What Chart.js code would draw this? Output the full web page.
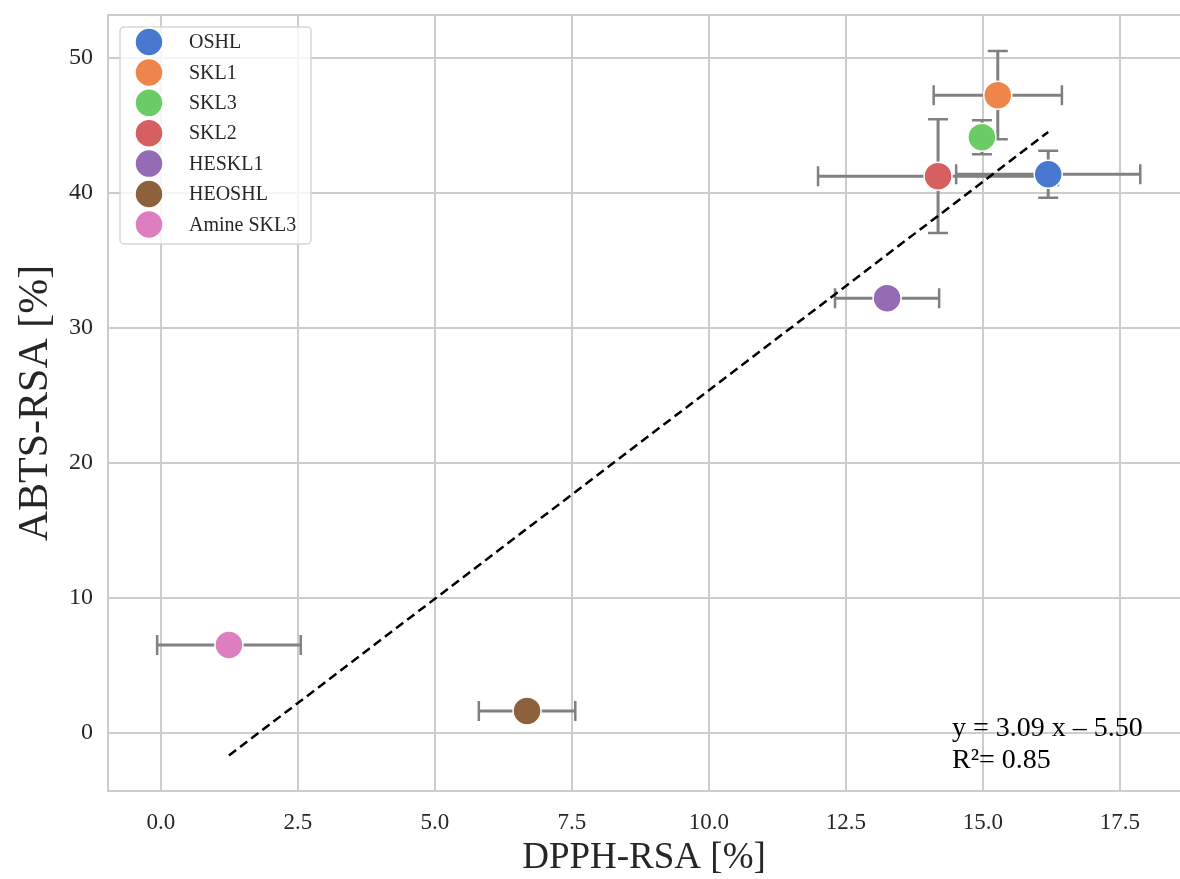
<!DOCTYPE html>
<html>
<head>
<meta charset="utf-8">
<script src="https://cdn.jsdelivr.net/npm/chart.js@4/dist/chart.umd.min.js"></script>
<style>
  html, body { margin: 0; padding: 0; background: #fff; }
  #wrap { width: 1180px; height: 879px; overflow: hidden; }
</style>
</head>
<body>
<div id="wrap"><canvas id="chart" width="1180" height="879"></canvas></div>
<script>
// values
const samples = ["OSHL", "SKL1", "SKL3", "SKL2", "HESKL1", "HEOSHL", "Amine SKL3"];
const dpph    = [16.19, 15.27, 14.98, 14.18, 13.25, 6.68, 1.24];
const dpphErr = [1.68, 1.17, 0, 2.19, 0.95, 0.88, 1.31];
const abts    = [41.40, 47.26, 44.15, 41.26, 32.22, 1.63, 6.52];
const abtsErr = [1.74, 3.27, 1.26, 4.22, 0, 0, 0];
const colors  = ["#4878d0", "#ee854a", "#6acc64", "#d65f5f", "#956cb4", "#8c613c", "#dc7ec0"];

const fitSlope = 3.09;
const fitIntercept = -5.50;
const fitR2 = 0.85;

const xTicks = [0, 2.5, 5, 7.5, 10, 12.5, 15, 17.5];
const yTicks = [0, 10, 20, 30, 40, 50];

const FONT = "'Liberation Serif', 'Times New Roman', serif";
const TEXT = "#262626";
const GRID = "#cccccc";

Chart.defaults.font.family = FONT;
Chart.defaults.color = TEXT;

const xMinData = Math.min(...dpph);
const xMaxData = Math.max(...dpph);

const datasets = samples.map((s, i) => ({
  type: "scatter",
  label: s,
  data: [{ x: dpph[i], y: abts[i] }],
  backgroundColor: colors[i],
  borderColor: "#ffffff",
  borderWidth: 1.5,
  pointRadius: 14,
  pointHoverRadius: 14,
  order: 1,
  isSample: true
}));

datasets.push({
  type: "line",
  label: "fit",
  data: [
    { x: xMinData, y: fitSlope * xMinData + fitIntercept },
    { x: xMaxData, y: fitSlope * xMaxData + fitIntercept }
  ],
  borderColor: "#000000",
  borderWidth: 2.5,
  borderDash: [9, 5],
  pointRadius: 0,
  fill: false,
  order: 2
});

// error bars, under everything else
const errorBars = {
  id: "errorBars",
  beforeDatasetsDraw(chart) {
    const { ctx, scales: { x, y } } = chart;
    const cap = 10;
    ctx.save();
    ctx.strokeStyle = "#808080";
    samples.forEach((s, i) => {
      const px = x.getPixelForValue(dpph[i]);
      const py = y.getPixelForValue(abts[i]);
      if (dpphErr[i] > 0) {
        const l = x.getPixelForValue(dpph[i] - dpphErr[i]);
        const r = x.getPixelForValue(dpph[i] + dpphErr[i]);
        ctx.lineWidth = 3;
        ctx.beginPath(); ctx.moveTo(l, py); ctx.lineTo(r, py); ctx.stroke();
        ctx.lineWidth = 2.5;
        ctx.beginPath();
        ctx.moveTo(l, py - cap); ctx.lineTo(l, py + cap);
        ctx.moveTo(r, py - cap); ctx.lineTo(r, py + cap);
        ctx.stroke();
      }
      if (abtsErr[i] > 0) {
        const t = y.getPixelForValue(abts[i] + abtsErr[i]);
        const b = y.getPixelForValue(abts[i] - abtsErr[i]);
        ctx.lineWidth = 3;
        ctx.beginPath(); ctx.moveTo(px, t); ctx.lineTo(px, b); ctx.stroke();
        ctx.lineWidth = 2.5;
        ctx.beginPath();
        ctx.moveTo(px - cap, t); ctx.lineTo(px + cap, t);
        ctx.moveTo(px - cap, b); ctx.lineTo(px + cap, b);
        ctx.stroke();
      }
    });
    ctx.restore();
  }
};

// frame around the plot (top/left/bottom, right runs off the image)
const frame = {
  id: "frame",
  beforeDatasetsDraw(chart) {
    const { ctx, chartArea: a } = chart;
    ctx.save();
    ctx.strokeStyle = GRID;
    ctx.lineWidth = 2;
    ctx.beginPath();
    ctx.moveTo(a.right, a.top); ctx.lineTo(a.left, a.top);
    ctx.lineTo(a.left, a.bottom); ctx.lineTo(a.right, a.bottom);
    ctx.stroke();
    ctx.restore();
  }
};

// legend box in the upper left corner + fit annotation
const overlay = {
  id: "overlay",
  afterDatasetsDraw(chart) {
    const { ctx } = chart;
    const items = chart.data.datasets.filter(d => d.isSample);
    ctx.save();
    ctx.beginPath();
    ctx.roundRect(120, 27, 191, 217, 4);
    ctx.fillStyle = "rgba(255,255,255,0.8)";
    ctx.fill();
    ctx.strokeStyle = "#d6d6d6";
    ctx.lineWidth = 1.5;
    ctx.stroke();

    ctx.font = "20px " + FONT;
    ctx.textBaseline = "middle";
    ctx.textAlign = "left";
    items.forEach((d, i) => {
      const cy = 42 + i * 30.4;
      ctx.beginPath();
      ctx.arc(149, cy, 14, 0, Math.PI * 2);
      ctx.fillStyle = d.backgroundColor;
      ctx.fill();
      ctx.strokeStyle = "#fff";
      ctx.lineWidth = 1.5;
      ctx.stroke();
      ctx.fillStyle = TEXT;
      ctx.fillText(d.label, 189, cy + 1);
    });

    // regression text
    ctx.font = "28px " + FONT;
    ctx.textBaseline = "alphabetic";
    ctx.fillStyle = "#000";
    const sign = fitIntercept < 0 ? "\u2013" : "+";
    ctx.fillText("y = " + fitSlope.toFixed(2) + " x " + sign + " " + Math.abs(fitIntercept).toFixed(2), 952, 736);
    ctx.fillText("R\u00b2= " + fitR2.toFixed(2), 952, 768);
    ctx.restore();
  }
};

new Chart(document.getElementById("chart"), {
  data: { datasets },
  plugins: [frame, errorBars, overlay],
  options: {
    responsive: false,
    animation: false,
    layout: { autoPadding: false, padding: { top: 15, right: 0, bottom: 0, left: 0 } },
    plugins: {
      legend: { display: false },
      tooltip: { enabled: false }
    },
    scales: {
      x: {
        type: "linear",
        min: -0.967,
        max: 18.595,
        afterBuildTicks: s => { s.ticks = xTicks.map(v => ({ value: v })); },
        afterFit: s => { s.height = 88; s.paddingLeft = 0; s.paddingRight = 0; },
        grid: { color: GRID, lineWidth: 2, drawTicks: false },
        border: { display: false },
        ticks: {
          padding: 18,
          font: { size: 23 },
          color: TEXT,
          callback: v => Number(v).toFixed(1)
        },
        title: {
          display: true,
          text: "DPPH-RSA [%]",
          font: { size: 37, lineHeight: 1.1 },
          color: TEXT,
          padding: { top: 0, bottom: 0 }
        }
      },
      y: {
        type: "linear",
        min: -4.3,
        max: 53.2,
        afterBuildTicks: s => { s.ticks = yTicks.map(v => ({ value: v })); },
        afterFit: s => { s.width = 108; s.paddingTop = 0; s.paddingBottom = 0; },
        grid: { color: GRID, lineWidth: 2, drawTicks: false },
        border: { display: false },
        ticks: {
          padding: 15,
          font: { size: 24 },
          color: TEXT,
          callback: v => String(v)
        },
        title: {
          display: true,
          text: "ABTS-RSA [%]",
          font: { size: 42 },
          color: TEXT,
          padding: { top: 11, bottom: 0 }
        }
      }
    }
  }
});
</script>
</body>
</html>
